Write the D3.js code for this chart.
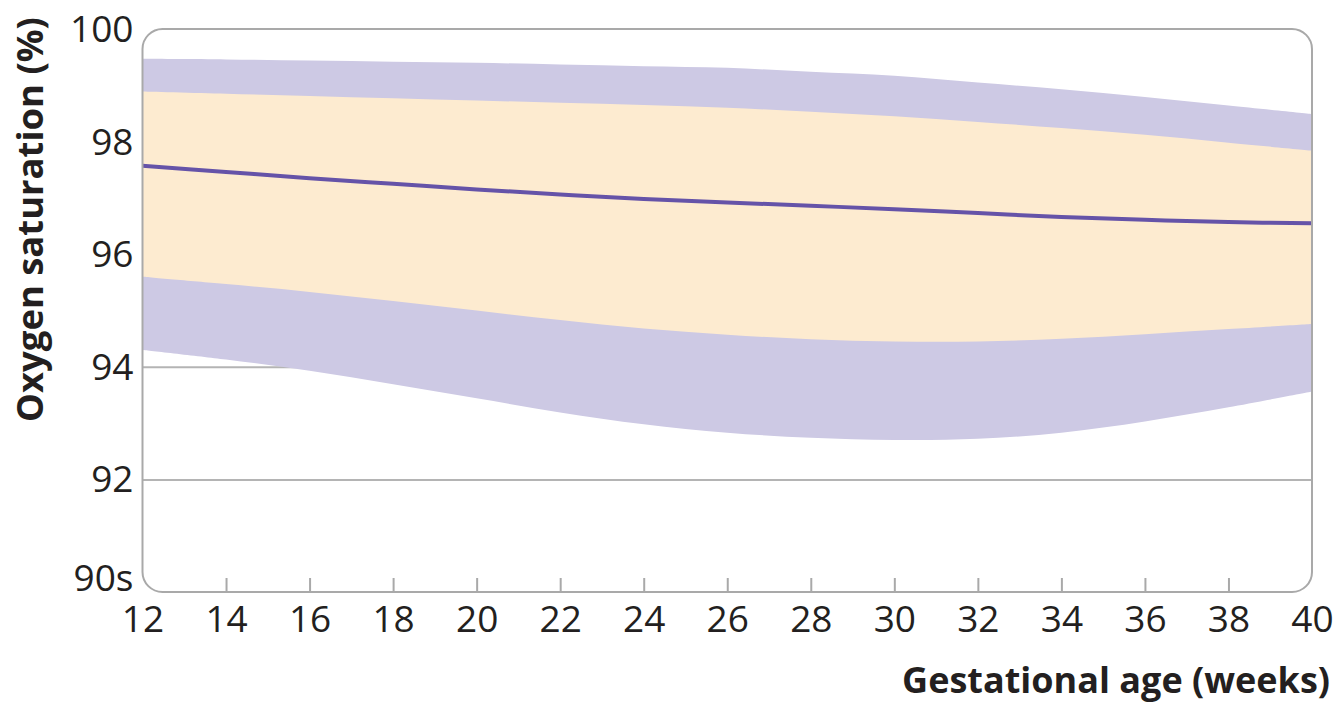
<!DOCTYPE html>
<html>
<head>
<meta charset="utf-8">
<script src="https://cdn.jsdelivr.net/npm/d3@7"></script>
<style>
  body { margin: 0; background: #fff; }
  svg { display: block; font-family: "Open Sans", sans-serif; }
</style>
</head>
<body>
<svg id="chart" width="1338" height="705"></svg>
<script>
// gestational age (weeks) and oxygen saturation centiles
const weeks      = [12, 14, 16, 18, 20, 22, 24, 26, 28, 30, 32, 34, 36, 38, 40];
const upperOuter = [99.47, 99.46, 99.44, 99.42, 99.40, 99.37, 99.34, 99.31, 99.24, 99.17, 99.05, 98.93, 98.79, 98.64, 98.49];
const upperInner = [98.89, 98.85, 98.81, 98.77, 98.73, 98.69, 98.65, 98.60, 98.53, 98.45, 98.35, 98.24, 98.12, 97.98, 97.84];
const median     = [97.57, 97.46, 97.35, 97.25, 97.15, 97.06, 96.98, 96.92, 96.86, 96.80, 96.73, 96.66, 96.61, 96.57, 96.55];
const lowerInner = [95.60, 95.47, 95.33, 95.17, 95.00, 94.83, 94.68, 94.57, 94.49, 94.45, 94.45, 94.50, 94.58, 94.67, 94.76];
const lowerOuter = [94.30, 94.13, 93.93, 93.69, 93.44, 93.19, 92.98, 92.83, 92.74, 92.70, 92.72, 92.83, 93.03, 93.28, 93.56];

const xTicks = [12, 14, 16, 18, 20, 22, 24, 26, 28, 30, 32, 34, 36, 38, 40];
const yTicks = [90, 92, 94, 96, 98, 100];
const yTickLabels = ["90s", "92", "94", "96", "98", "100"];

const margin = {top: 29, right: 26, bottom: 113, left: 142.5};
const W = 1338, H = 705;
const width = W - margin.left - margin.right;
const height = H - margin.top - margin.bottom;

const svg = d3.select("#chart");
const g = svg.append("g").attr("transform", `translate(${margin.left},${margin.top})`);

const x = d3.scaleLinear().domain([12, 40]).range([0, width]);
const y = d3.scaleLinear().domain([90, 100]).range([height, 0]);

const rows = weeks.map((w, i) => ({
  w: w, uo: upperOuter[i], ui: upperInner[i], m: median[i], li: lowerInner[i], lo: lowerOuter[i]
}));

// clip everything to the rounded frame
g.append("clipPath").attr("id", "frame")
  .append("rect").attr("width", width).attr("height", height).attr("rx", 20);

// gridlines (sit under the bands)
g.append("g")
  .call(d3.axisLeft(y).tickValues(yTicks.filter(v => v > 90 && v < 100)).tickSize(-width).tickFormat(""))
  .call(a => a.select(".domain").remove())
  .selectAll("line").attr("stroke", "#b4b4b4").attr("stroke-width", 2);

const plot = g.append("g").attr("clip-path", "url(#frame)");

const curve = d3.curveCatmullRom;

plot.append("path").datum(rows)
  .attr("fill", "#cdc9e4")
  .attr("d", d3.area().curve(curve).x(d => x(d.w)).y0(d => y(d.lo)).y1(d => y(d.uo)));

plot.append("path").datum(rows)
  .attr("fill", "#fdebd0")
  .attr("d", d3.area().curve(curve).x(d => x(d.w)).y0(d => y(d.li)).y1(d => y(d.ui)));

plot.append("path").datum(rows)
  .attr("fill", "none")
  .attr("stroke", "#6553a8")
  .attr("stroke-width", 4)
  .attr("d", d3.line().curve(curve).x(d => x(d.w)).y(d => y(d.m)));

// frame
g.append("rect")
  .attr("width", width).attr("height", height).attr("rx", 20)
  .attr("fill", "none").attr("stroke", "#a9a9a9").attr("stroke-width", 2);

// x axis: inward ticks, none at the rounded corners
const xAxis = g.append("g").attr("transform", `translate(0,${height})`)
  .call(d3.axisBottom(x).tickValues(xTicks).tickSizeInner(-14).tickSizeOuter(0).tickPadding(14).tickFormat(d3.format("d")))
  .attr("font-family", null).attr("font-size", null);
xAxis.select(".domain").remove();
xAxis.selectAll(".tick line")
  .attr("stroke", "#a9a9a9").attr("stroke-width", 2)
  .filter(d => d === 12 || d === 40).remove();
xAxis.selectAll(".tick text")
  .attr("font-size", 37).attr("fill", "#231f20").attr("y", 5).attr("dy", "0.95em");

// y axis labels
const yAxis = g.append("g")
  .call(d3.axisLeft(y).tickValues(yTicks).tickSize(0).tickPadding(9)
    .tickFormat((d, i) => yTickLabels[i]))
  .attr("font-family", null).attr("font-size", null);
yAxis.select(".domain").remove();
yAxis.selectAll(".tick text")
  .attr("font-size", 37).attr("fill", "#231f20")
  .attr("dy", d => d === 90 ? "-0.05em" : "0.34em");

// axis titles, sized to the span they take in the figure
function fitText(sel, target) {
  const len = sel.node().getComputedTextLength();
  const fs = parseFloat(sel.attr("font-size"));
  sel.attr("font-size", fs * target / len);
}

const xTitle = svg.append("text")
  .attr("x", 1330).attr("y", 693)
  .attr("text-anchor", "end")
  .attr("font-weight", 700).attr("font-size", 34).attr("fill", "#231f20")
  .text("Gestational age (weeks)");
fitText(xTitle, 428);

const yTitle = svg.append("text")
  .attr("transform", "translate(43,219.5) rotate(-90)")
  .attr("text-anchor", "middle")
  .attr("font-weight", 700).attr("font-size", 36).attr("fill", "#231f20")
  .text("Oxygen saturation (%)");
fitText(yTitle, 405);
</script>
</body>
</html>
